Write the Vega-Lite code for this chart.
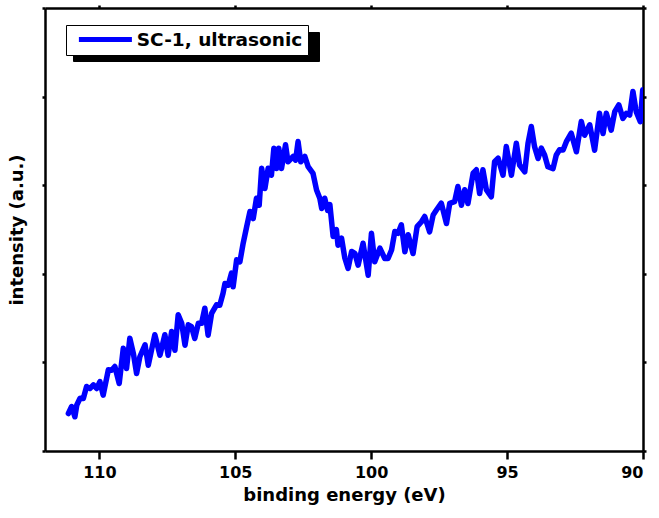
{
  "$schema": "https://vega.github.io/schema/vega-lite/v6.json",
  "width": 598,
  "height": 443,
  "autosize": {"type": "none"},
  "padding": {"left": 45, "top": 8, "right": 16, "bottom": 67},
  "config": {
    "font": "DejaVu Sans",
    "view": {"stroke": null},
    "axis": {
      "grid": false,
      "domainColor": "black",
      "domainWidth": 2.5,
      "tickColor": "black",
      "tickWidth": 2.5,
      "labelColor": "black",
      "titleColor": "black",
      "labelFont": "DejaVu Sans",
      "titleFont": "DejaVu Sans"
    }
  },
  "data": {
    "values": [
      {"energy": 111.14, "intensity": 0.423, "sample": "SC-1, ultrasonic"},
      {"energy": 111.02, "intensity": 0.502, "sample": "SC-1, ultrasonic"},
      {"energy": 110.90, "intensity": 0.386, "sample": "SC-1, ultrasonic"},
      {"energy": 110.83, "intensity": 0.519, "sample": "SC-1, ultrasonic"},
      {"energy": 110.71, "intensity": 0.596, "sample": "SC-1, ultrasonic"},
      {"energy": 110.59, "intensity": 0.593, "sample": "SC-1, ultrasonic"},
      {"energy": 110.47, "intensity": 0.728, "sample": "SC-1, ultrasonic"},
      {"energy": 110.35, "intensity": 0.705, "sample": "SC-1, ultrasonic"},
      {"energy": 110.22, "intensity": 0.747, "sample": "SC-1, ultrasonic"},
      {"energy": 110.10, "intensity": 0.705, "sample": "SC-1, ultrasonic"},
      {"energy": 109.98, "intensity": 0.784, "sample": "SC-1, ultrasonic"},
      {"energy": 109.86, "intensity": 0.630, "sample": "SC-1, ultrasonic"},
      {"energy": 109.67, "intensity": 0.916, "sample": "SC-1, ultrasonic"},
      {"energy": 109.55, "intensity": 0.912, "sample": "SC-1, ultrasonic"},
      {"energy": 109.43, "intensity": 0.954, "sample": "SC-1, ultrasonic"},
      {"energy": 109.27, "intensity": 0.762, "sample": "SC-1, ultrasonic"},
      {"energy": 109.12, "intensity": 1.160, "sample": "SC-1, ultrasonic"},
      {"energy": 109.00, "intensity": 0.931, "sample": "SC-1, ultrasonic"},
      {"energy": 108.88, "intensity": 1.273, "sample": "SC-1, ultrasonic"},
      {"energy": 108.75, "intensity": 1.103, "sample": "SC-1, ultrasonic"},
      {"energy": 108.63, "intensity": 0.875, "sample": "SC-1, ultrasonic"},
      {"energy": 108.51, "intensity": 1.064, "sample": "SC-1, ultrasonic"},
      {"energy": 108.32, "intensity": 1.199, "sample": "SC-1, ultrasonic"},
      {"energy": 108.20, "intensity": 0.968, "sample": "SC-1, ultrasonic"},
      {"energy": 107.96, "intensity": 1.312, "sample": "SC-1, ultrasonic"},
      {"energy": 107.77, "intensity": 1.081, "sample": "SC-1, ultrasonic"},
      {"energy": 107.59, "intensity": 1.312, "sample": "SC-1, ultrasonic"},
      {"energy": 107.47, "intensity": 1.081, "sample": "SC-1, ultrasonic"},
      {"energy": 107.34, "intensity": 1.349, "sample": "SC-1, ultrasonic"},
      {"energy": 107.22, "intensity": 1.138, "sample": "SC-1, ultrasonic"},
      {"energy": 107.10, "intensity": 1.537, "sample": "SC-1, ultrasonic"},
      {"energy": 106.97, "intensity": 1.441, "sample": "SC-1, ultrasonic"},
      {"energy": 106.85, "intensity": 1.194, "sample": "SC-1, ultrasonic"},
      {"energy": 106.73, "intensity": 1.424, "sample": "SC-1, ultrasonic"},
      {"energy": 106.61, "intensity": 1.403, "sample": "SC-1, ultrasonic"},
      {"energy": 106.49, "intensity": 1.270, "sample": "SC-1, ultrasonic"},
      {"energy": 106.36, "intensity": 1.441, "sample": "SC-1, ultrasonic"},
      {"energy": 106.24, "intensity": 1.441, "sample": "SC-1, ultrasonic"},
      {"energy": 106.12, "intensity": 1.612, "sample": "SC-1, ultrasonic"},
      {"energy": 106.00, "intensity": 1.307, "sample": "SC-1, ultrasonic"},
      {"energy": 105.87, "intensity": 1.554, "sample": "SC-1, ultrasonic"},
      {"energy": 105.69, "intensity": 1.650, "sample": "SC-1, ultrasonic"},
      {"energy": 105.57, "intensity": 1.646, "sample": "SC-1, ultrasonic"},
      {"energy": 105.45, "intensity": 1.780, "sample": "SC-1, ultrasonic"},
      {"energy": 105.38, "intensity": 1.891, "sample": "SC-1, ultrasonic"},
      {"energy": 105.26, "intensity": 1.871, "sample": "SC-1, ultrasonic"},
      {"energy": 105.14, "intensity": 2.007, "sample": "SC-1, ultrasonic"},
      {"energy": 105.08, "intensity": 1.853, "sample": "SC-1, ultrasonic"},
      {"energy": 104.95, "intensity": 2.158, "sample": "SC-1, ultrasonic"},
      {"energy": 104.83, "intensity": 2.135, "sample": "SC-1, ultrasonic"},
      {"energy": 104.71, "intensity": 2.344, "sample": "SC-1, ultrasonic"},
      {"energy": 104.58, "intensity": 2.532, "sample": "SC-1, ultrasonic"},
      {"energy": 104.46, "intensity": 2.703, "sample": "SC-1, ultrasonic"},
      {"energy": 104.34, "intensity": 2.624, "sample": "SC-1, ultrasonic"},
      {"energy": 104.22, "intensity": 2.853, "sample": "SC-1, ultrasonic"},
      {"energy": 104.12, "intensity": 2.774, "sample": "SC-1, ultrasonic"},
      {"energy": 104.03, "intensity": 3.192, "sample": "SC-1, ultrasonic"},
      {"energy": 103.91, "intensity": 2.963, "sample": "SC-1, ultrasonic"},
      {"energy": 103.79, "intensity": 3.192, "sample": "SC-1, ultrasonic"},
      {"energy": 103.67, "intensity": 3.113, "sample": "SC-1, ultrasonic"},
      {"energy": 103.58, "intensity": 3.418, "sample": "SC-1, ultrasonic"},
      {"energy": 103.48, "intensity": 3.188, "sample": "SC-1, ultrasonic"},
      {"energy": 103.40, "intensity": 3.418, "sample": "SC-1, ultrasonic"},
      {"energy": 103.30, "intensity": 3.188, "sample": "SC-1, ultrasonic"},
      {"energy": 103.15, "intensity": 3.456, "sample": "SC-1, ultrasonic"},
      {"energy": 103.06, "intensity": 3.264, "sample": "SC-1, ultrasonic"},
      {"energy": 102.87, "intensity": 3.324, "sample": "SC-1, ultrasonic"},
      {"energy": 102.78, "intensity": 3.282, "sample": "SC-1, ultrasonic"},
      {"energy": 102.69, "intensity": 3.493, "sample": "SC-1, ultrasonic"},
      {"energy": 102.59, "intensity": 3.264, "sample": "SC-1, ultrasonic"},
      {"energy": 102.44, "intensity": 3.324, "sample": "SC-1, ultrasonic"},
      {"energy": 102.32, "intensity": 3.209, "sample": "SC-1, ultrasonic"},
      {"energy": 102.14, "intensity": 3.134, "sample": "SC-1, ultrasonic"},
      {"energy": 102.01, "intensity": 2.946, "sample": "SC-1, ultrasonic"},
      {"energy": 101.89, "intensity": 2.853, "sample": "SC-1, ultrasonic"},
      {"energy": 101.82, "intensity": 2.737, "sample": "SC-1, ultrasonic"},
      {"energy": 101.71, "intensity": 2.853, "sample": "SC-1, ultrasonic"},
      {"energy": 101.60, "intensity": 2.714, "sample": "SC-1, ultrasonic"},
      {"energy": 101.52, "intensity": 2.782, "sample": "SC-1, ultrasonic"},
      {"energy": 101.40, "intensity": 2.421, "sample": "SC-1, ultrasonic"},
      {"energy": 101.28, "intensity": 2.500, "sample": "SC-1, ultrasonic"},
      {"energy": 101.22, "intensity": 2.323, "sample": "SC-1, ultrasonic"},
      {"energy": 101.09, "intensity": 2.402, "sample": "SC-1, ultrasonic"},
      {"energy": 100.97, "intensity": 2.178, "sample": "SC-1, ultrasonic"},
      {"energy": 100.85, "intensity": 2.060, "sample": "SC-1, ultrasonic"},
      {"energy": 100.72, "intensity": 2.252, "sample": "SC-1, ultrasonic"},
      {"energy": 100.60, "intensity": 2.231, "sample": "SC-1, ultrasonic"},
      {"energy": 100.48, "intensity": 2.097, "sample": "SC-1, ultrasonic"},
      {"energy": 100.30, "intensity": 2.345, "sample": "SC-1, ultrasonic"},
      {"energy": 100.11, "intensity": 1.984, "sample": "SC-1, ultrasonic"},
      {"energy": 99.99, "intensity": 2.458, "sample": "SC-1, ultrasonic"},
      {"energy": 99.87, "intensity": 2.135, "sample": "SC-1, ultrasonic"},
      {"energy": 99.68, "intensity": 2.289, "sample": "SC-1, ultrasonic"},
      {"energy": 99.50, "intensity": 2.173, "sample": "SC-1, ultrasonic"},
      {"energy": 99.38, "intensity": 2.173, "sample": "SC-1, ultrasonic"},
      {"energy": 99.25, "intensity": 2.269, "sample": "SC-1, ultrasonic"},
      {"energy": 99.13, "intensity": 2.477, "sample": "SC-1, ultrasonic"},
      {"energy": 99.01, "intensity": 2.457, "sample": "SC-1, ultrasonic"},
      {"energy": 98.89, "intensity": 2.553, "sample": "SC-1, ultrasonic"},
      {"energy": 98.76, "intensity": 2.248, "sample": "SC-1, ultrasonic"},
      {"energy": 98.64, "intensity": 2.440, "sample": "SC-1, ultrasonic"},
      {"energy": 98.46, "intensity": 2.229, "sample": "SC-1, ultrasonic"},
      {"energy": 98.31, "intensity": 2.532, "sample": "SC-1, ultrasonic"},
      {"energy": 98.15, "intensity": 2.588, "sample": "SC-1, ultrasonic"},
      {"energy": 98.03, "intensity": 2.647, "sample": "SC-1, ultrasonic"},
      {"energy": 97.85, "intensity": 2.474, "sample": "SC-1, ultrasonic"},
      {"energy": 97.72, "intensity": 2.664, "sample": "SC-1, ultrasonic"},
      {"energy": 97.60, "intensity": 2.720, "sample": "SC-1, ultrasonic"},
      {"energy": 97.42, "intensity": 2.797, "sample": "SC-1, ultrasonic"},
      {"energy": 97.23, "intensity": 2.568, "sample": "SC-1, ultrasonic"},
      {"energy": 97.11, "intensity": 2.796, "sample": "SC-1, ultrasonic"},
      {"energy": 96.93, "intensity": 2.814, "sample": "SC-1, ultrasonic"},
      {"energy": 96.81, "intensity": 2.985, "sample": "SC-1, ultrasonic"},
      {"energy": 96.68, "intensity": 2.774, "sample": "SC-1, ultrasonic"},
      {"energy": 96.56, "intensity": 2.948, "sample": "SC-1, ultrasonic"},
      {"energy": 96.44, "intensity": 2.793, "sample": "SC-1, ultrasonic"},
      {"energy": 96.25, "intensity": 3.135, "sample": "SC-1, ultrasonic"},
      {"energy": 96.13, "intensity": 3.174, "sample": "SC-1, ultrasonic"},
      {"energy": 96.01, "intensity": 2.906, "sample": "SC-1, ultrasonic"},
      {"energy": 95.89, "intensity": 3.174, "sample": "SC-1, ultrasonic"},
      {"energy": 95.76, "intensity": 2.946, "sample": "SC-1, ultrasonic"},
      {"energy": 95.58, "intensity": 2.869, "sample": "SC-1, ultrasonic"},
      {"energy": 95.46, "intensity": 3.265, "sample": "SC-1, ultrasonic"},
      {"energy": 95.33, "intensity": 3.305, "sample": "SC-1, ultrasonic"},
      {"energy": 95.15, "intensity": 3.113, "sample": "SC-1, ultrasonic"},
      {"energy": 95.03, "intensity": 3.437, "sample": "SC-1, ultrasonic"},
      {"energy": 94.84, "intensity": 3.113, "sample": "SC-1, ultrasonic"},
      {"energy": 94.66, "intensity": 3.474, "sample": "SC-1, ultrasonic"},
      {"energy": 94.54, "intensity": 3.228, "sample": "SC-1, ultrasonic"},
      {"energy": 94.35, "intensity": 3.151, "sample": "SC-1, ultrasonic"},
      {"energy": 94.23, "intensity": 3.473, "sample": "SC-1, ultrasonic"},
      {"energy": 94.11, "intensity": 3.662, "sample": "SC-1, ultrasonic"},
      {"energy": 93.99, "intensity": 3.435, "sample": "SC-1, ultrasonic"},
      {"energy": 93.86, "intensity": 3.301, "sample": "SC-1, ultrasonic"},
      {"energy": 93.74, "intensity": 3.418, "sample": "SC-1, ultrasonic"},
      {"energy": 93.62, "intensity": 3.341, "sample": "SC-1, ultrasonic"},
      {"energy": 93.50, "intensity": 3.209, "sample": "SC-1, ultrasonic"},
      {"energy": 93.31, "intensity": 3.188, "sample": "SC-1, ultrasonic"},
      {"energy": 93.19, "intensity": 3.341, "sample": "SC-1, ultrasonic"},
      {"energy": 93.07, "intensity": 3.400, "sample": "SC-1, ultrasonic"},
      {"energy": 92.94, "intensity": 3.397, "sample": "SC-1, ultrasonic"},
      {"energy": 92.82, "intensity": 3.491, "sample": "SC-1, ultrasonic"},
      {"energy": 92.64, "intensity": 3.587, "sample": "SC-1, ultrasonic"},
      {"energy": 92.45, "intensity": 3.377, "sample": "SC-1, ultrasonic"},
      {"energy": 92.27, "intensity": 3.719, "sample": "SC-1, ultrasonic"},
      {"energy": 92.15, "intensity": 3.564, "sample": "SC-1, ultrasonic"},
      {"energy": 91.96, "intensity": 3.682, "sample": "SC-1, ultrasonic"},
      {"energy": 91.78, "intensity": 3.395, "sample": "SC-1, ultrasonic"},
      {"energy": 91.60, "intensity": 3.813, "sample": "SC-1, ultrasonic"},
      {"energy": 91.47, "intensity": 3.584, "sample": "SC-1, ultrasonic"},
      {"energy": 91.35, "intensity": 3.813, "sample": "SC-1, ultrasonic"},
      {"energy": 91.17, "intensity": 3.621, "sample": "SC-1, ultrasonic"},
      {"energy": 91.04, "intensity": 3.830, "sample": "SC-1, ultrasonic"},
      {"energy": 90.89, "intensity": 3.907, "sample": "SC-1, ultrasonic"},
      {"energy": 90.74, "intensity": 3.753, "sample": "SC-1, ultrasonic"},
      {"energy": 90.61, "intensity": 3.811, "sample": "SC-1, ultrasonic"},
      {"energy": 90.49, "intensity": 3.792, "sample": "SC-1, ultrasonic"},
      {"energy": 90.37, "intensity": 4.058, "sample": "SC-1, ultrasonic"},
      {"energy": 90.25, "intensity": 3.830, "sample": "SC-1, ultrasonic"},
      {"energy": 90.10, "intensity": 3.716, "sample": "SC-1, ultrasonic"},
      {"energy": 90.01, "intensity": 4.077, "sample": "SC-1, ultrasonic"}
    ]
  },
  "layer": [
    {
      "mark": {"type": "line", "opacity": 0, "clip": true},
      "encoding": {
        "x": {
          "field": "energy",
          "type": "quantitative",
          "scale": {"domain": [90, 112], "reverse": true, "nice": false, "zero": false},
          "axis": {"orient": "top", "values": [90, 95, 100, 105, 110], "labels": false, "tickSize": 3, "title": null}
        },
        "y": {
          "field": "intensity",
          "type": "quantitative",
          "scale": {"domain": [0, 5], "nice": false, "zero": false},
          "axis": {"orient": "right", "values": [0, 1, 2, 3, 4, 5], "labels": false, "tickSize": 3, "title": null}
        },
        "strokeDash": {
          "datum": "SC-1, ultrasonic",
          "scale": {"range": [[1, 0]]},
          "legend": {
            "orient": "none",
            "legendX": 28,
            "legendY": 24,
            "title": null,
            "zindex": 0,
            "fillColor": "black",
            "strokeColor": "black",
            "padding": 5,
            "symbolType": "M-4,-1.1V1.1M-4,0H30.3",
            "symbolSize": 175.6,
            "symbolStrokeWidth": 5,
            "symbolOffset": 24.9,
            "symbolOpacity": 0,
            "labelOpacity": 0,
            "labelFontSize": 18.5,
            "labelOffset": 0,
            "labelExpr": "''"
          }
        }
      }
    },
    {
      "mark": {"type": "line", "strokeWidth": 5.5, "strokeJoin": "round", "strokeCap": "round", "clip": true},
      "encoding": {
        "x": {
          "field": "energy",
          "type": "quantitative",
          "axis": {
            "orient": "bottom",
            "values": [90, 95, 100, 105, 110],
            "tickSize": 8,
            "labelFontSize": 16,
            "labelFontWeight": "bold",
            "labelPadding": 5,
            "title": "binding energy (eV)",
            "titleFontSize": 18,
            "titleFontWeight": "bold",
            "titlePadding": 6
          }
        },
        "y": {
          "field": "intensity",
          "type": "quantitative",
          "axis": {
            "orient": "left",
            "values": [0, 1, 2, 3, 4, 5],
            "labels": false,
            "tickSize": 3,
            "title": "intensity (a.u.)",
            "titleFontSize": 18,
            "titleFontWeight": "bold",
            "titlePadding": 14
          }
        },
        "color": {
          "field": "sample",
          "type": "nominal",
          "scale": {"range": ["#0000FF"]},
          "legend": {
            "orient": "none",
            "legendX": 21,
            "legendY": 17,
            "title": null,
            "zindex": 1,
            "fillColor": "white",
            "strokeColor": "black",
            "padding": 5,
            "symbolType": "M-4,0H4",
            "symbolSize": 175.6,
            "symbolStrokeWidth": 5,
            "symbolOffset": 24.9,
            "labelFont": "DejaVu Sans",
            "labelFontSize": 18.5,
            "labelFontWeight": "bold",
            "labelColor": "black",
            "labelOffset": 21.9,
            "labelLimit": 400,
            "labelExpr": "datum.label + '\u00a0\u00a0'"
          }
        }
      }
    }
  ],
  "resolve": {"axis": {"x": "independent", "y": "independent"}}
}
